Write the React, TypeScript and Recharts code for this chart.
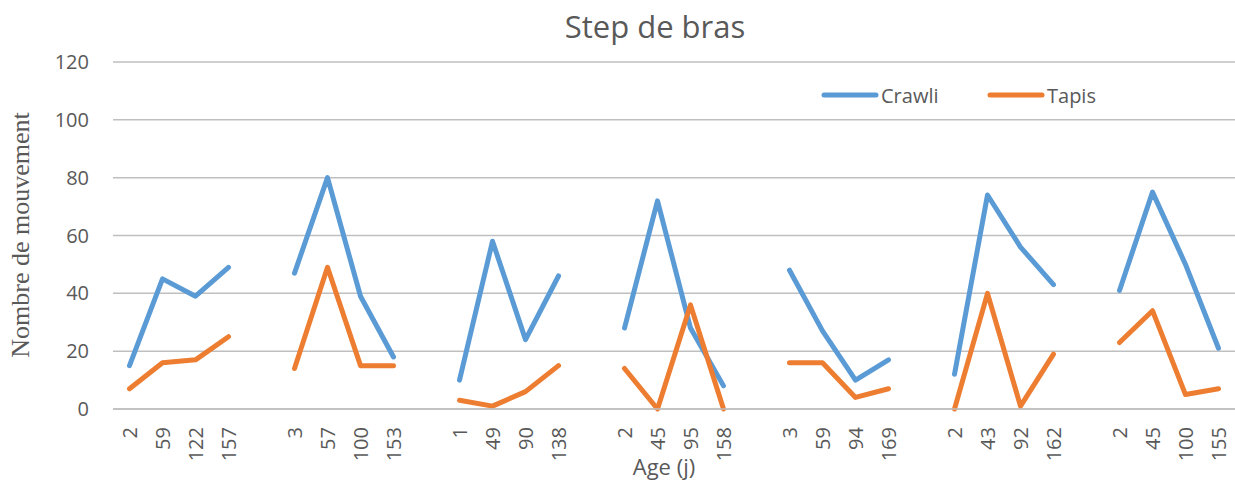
import React from 'react';
import { LineChart, Line, XAxis, YAxis, CartesianGrid } from 'recharts';

const groupAges: string[][] = [
  ['2', '59', '122', '157'],
  ['3', '57', '100', '153'],
  ['1', '49', '90', '138'],
  ['2', '45', '95', '158'],
  ['3', '59', '94', '169'],
  ['2', '43', '92', '162'],
  ['2', '45', '100', '155'],
];

const crawli: number[][] = [
  [15, 45, 39, 49],
  [47, 80, 39, 18],
  [10, 58, 24, 46],
  [28, 72, 28, 8],
  [48, 27, 10, 17],
  [12, 74, 56, 43],
  [41, 75, 50, 21],
];

const tapis: number[][] = [
  [7, 16, 17, 25],
  [14, 49, 15, 15],
  [3, 1, 6, 15],
  [14, 0, 36, 0],
  [16, 16, 4, 7],
  [0, 40, 1, 19],
  [23, 34, 5, 7],
];

const yTicks = [0, 20, 40, 60, 80, 100, 120];

type Row = { idx: number; age: string; crawli: number | null; tapis: number | null };

const data: Row[] = [];
groupAges.forEach((ages, g) => {
  if (g > 0) data.push({ idx: data.length, age: '', crawli: null, tapis: null });
  ages.forEach((a, i) => {
    data.push({ idx: data.length, age: a, crawli: crawli[g][i], tapis: tapis[g][i] });
  });
});

const BLUE = '#5B9BD5';
const ORANGE = '#ED7D31';
const TEXT = '#595959';
const FONT = '"Open Sans", sans-serif';

const XTick = (props: any) => {
  const { x, y, payload } = props;
  const ty = y + 10;
  return (
    <text
      x={x}
      y={ty}
      transform={`rotate(-90, ${x}, ${ty})`}
      textAnchor="end"
      dominantBaseline="central"
      fill={TEXT}
      fontSize={20}
      fontFamily={FONT}
    >
      {data[payload.value]?.age}
    </text>
  );
};

export default function App() {
  return (
    <div style={{ position: 'absolute', left: 0, top: 0, width: 1235, height: 484, background: '#fff' }}>
      <LineChart
        width={1235}
        height={484}
        data={data}
        margin={{ top: 62, right: 0, bottom: 0, left: 0 }}
      >
        <CartesianGrid vertical={false} stroke="#BFBFBF" strokeWidth={1.5} />
        <XAxis
          dataKey="idx"
          type="category"
          height={75}
          padding={{ left: 16.5, right: 16.5 }}
          interval={0}
          tickLine={false}
          axisLine={{ stroke: '#BFBFBF', strokeWidth: 1.5 }}
          tick={<XTick />}
        />
        <YAxis
          width={113}
          domain={[0, 120]}
          ticks={yTicks}
          axisLine={false}
          tickLine={false}
          tickSize={0}
          tickMargin={24}
          tick={{ fill: TEXT, fontSize: 20, fontFamily: FONT }}
        />
        <Line
          type="linear"
          dataKey="crawli"
          stroke={BLUE}
          strokeWidth={5}
          strokeLinecap="round"
          strokeLinejoin="round"
          dot={false}
          activeDot={false}
          connectNulls={false}
          isAnimationActive={false}
        />
        <Line
          type="linear"
          dataKey="tapis"
          stroke={ORANGE}
          strokeWidth={5}
          strokeLinecap="round"
          strokeLinejoin="round"
          dot={false}
          activeDot={false}
          connectNulls={false}
          isAnimationActive={false}
        />
      </LineChart>
      <svg
        width={1235}
        height={484}
        style={{ position: 'absolute', left: 0, top: 0, pointerEvents: 'none' }}
      >
        <text x={655} y={38} textAnchor="middle" fill={TEXT} fontSize={31} fontFamily={FONT}>
          Step de bras
        </text>
        <text x={664} y={475} textAnchor="middle" fill={TEXT} fontSize={22} fontFamily={FONT}>
          Age (j)
        </text>
        <text
          x={20}
          y={235}
          transform="rotate(-90, 20, 235)"
          textAnchor="middle"
          dominantBaseline="central"
          fill={TEXT}
          fontSize={26}
          fontFamily='"Liberation Serif", "Times New Roman", serif'
        >
          Nombre de mouvement
        </text>
        <line x1={824} y1={95} x2={876} y2={95} stroke={BLUE} strokeWidth={5} strokeLinecap="round" />
        <text x={881} y={95} dominantBaseline="central" fill={TEXT} fontSize={20} fontFamily={FONT}>
          Crawli
        </text>
        <line x1={990} y1={95} x2={1042} y2={95} stroke={ORANGE} strokeWidth={5} strokeLinecap="round" />
        <text x={1047} y={95} dominantBaseline="central" fill={TEXT} fontSize={20} fontFamily={FONT}>
          Tapis
        </text>
      </svg>
    </div>
  );
}
